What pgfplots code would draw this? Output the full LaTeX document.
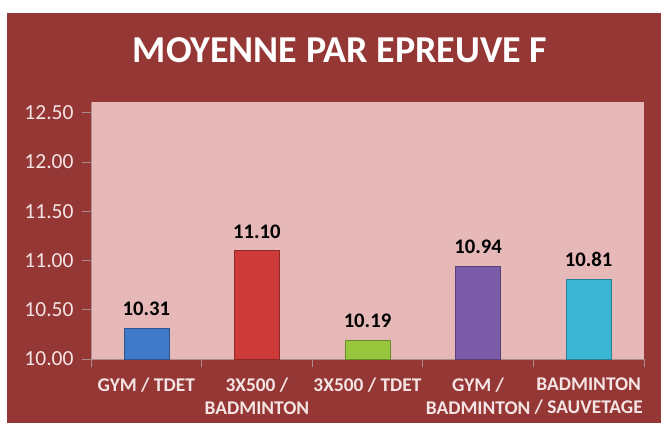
\documentclass[border=0pt]{standalone}
\usepackage{fontspec}
\setmainfont{Carlito}
\usepackage{pgfplots}
\pgfplotsset{compat=1.18}
\definecolor{outerred}{RGB}{149,55,53}
\definecolor{plotbg}{RGB}{230,185,184}
\definecolor{lbl}{RGB}{245,228,228}
\definecolor{cblue}{RGB}{62,122,200}
\definecolor{cred}{RGB}{204,58,58}
\definecolor{cgreen}{RGB}{152,198,60}
\definecolor{cpurple}{RGB}{124,92,168}
\definecolor{ccyan}{RGB}{58,182,212}
\definecolor{tickgray}{RGB}{170,140,140}
\begin{document}
\begin{tikzpicture}[x=1pt,y=1pt]
\fill[white] (0,0) rectangle (661,423);
\fill[outerred] (7,0) rectangle (661,410);
\node[text=white,font=\fontsize{38}{44}\selectfont\bfseries] at (340,373) {MOYENNE PAR EPREUVE F};
\begin{axis}[
  at={(91pt,64pt)}, anchor=south west,
  width=553pt, height=257pt, scale only axis,
  xmin=-0.5, xmax=4.5, ymin=10, ymax=12.61,
  axis background/.style={fill=plotbg},
  axis x line*=bottom, axis y line*=left,
  axis line style={tickgray, line width=0.8pt},
  ybar, bar width=45pt, bar shift=0pt,
  xtick={0,1,2,3,4},
  xticklabels={GYM / TDET, 3X500 /\\BADMINTON, 3X500 / TDET, GYM /\\BADMINTON, BADMINTON\\/ SAUVETAGE},
  major x tick style={draw=none},
  minor xtick={-0.5,0.5,1.5,2.5,3.5,4.5},
  minor x tick style={tickgray, line width=0.8pt},
  minor tick length=8pt,
  tick align=outside,
  ytick={10,10.5,11,11.5,12,12.5},
  y tick style={tickgray, line width=0.8pt},
  major tick length=9pt,
  yticklabel style={/pgf/number format/.cd, fixed, fixed zerofill, precision=2, assume math mode=true, /tikz/.cd, text=lbl, font=\fontsize{21.5}{24}\selectfont, xshift=-5pt},
  xticklabel style={align=center, text=lbl, font=\fontsize{19.4}{23}\selectfont\bfseries, yshift=-6pt},
  nodes near coords,
  nodes near coords style={/pgf/number format/.cd, fixed, fixed zerofill, precision=2, assume math mode=true, /tikz/.cd, font=\fontsize{20.7}{24}\selectfont\bfseries, text=black, anchor=south, yshift=9pt},
]
\addplot[fill=cblue, draw=cblue!70!black] coordinates {(0,10.31)};
\addplot[fill=cred, draw=cred!70!black] coordinates {(1,11.10)};
\addplot[fill=cgreen, draw=cgreen!70!black] coordinates {(2,10.19)};
\addplot[fill=cpurple, draw=cpurple!70!black] coordinates {(3,10.94)};
\addplot[fill=ccyan, draw=ccyan!70!black] coordinates {(4,10.81)};
\end{axis}
\end{tikzpicture}
\end{document}
